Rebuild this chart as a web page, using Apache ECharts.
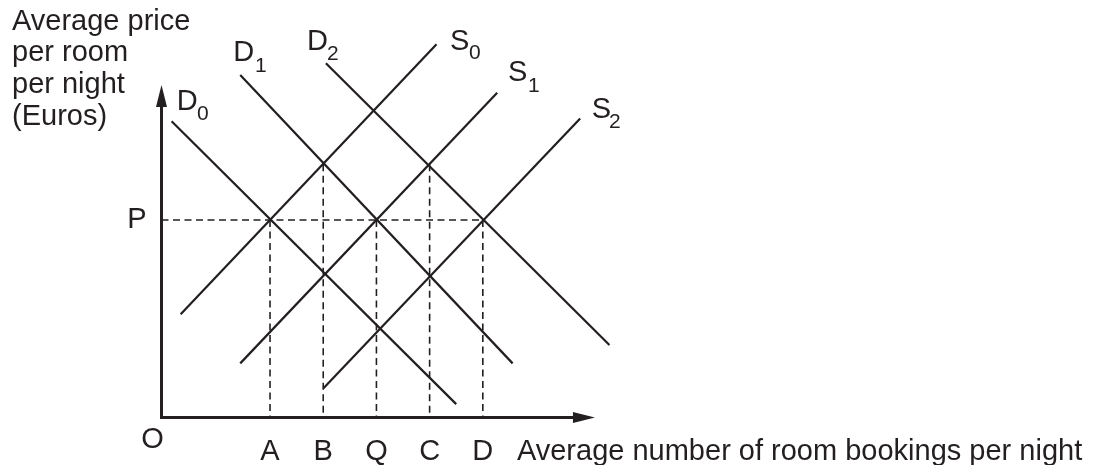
<!DOCTYPE html>
<html>
<head>
<meta charset="utf-8">
<title>Hotel room market: demand and supply shifts</title>
<script src="https://cdn.jsdelivr.net/npm/echarts@6/dist/echarts.min.js"></script>
<style>
  html, body { margin: 0; padding: 0; background: #ffffff; }
  #chart { width: 1095px; height: 465px; }
</style>
</head>
<body>
<div id="chart"></div>
<script>
// Demand and supply curves, each given by its two end points [quantity, price]
const demandD0 = [[0.15, 5.27], [5.50, 0.20]];
const demandD1 = [[1.44, 6.10], [6.56, 0.93]];
const demandD2 = [[3.05, 6.31], [8.38, 1.26]];
const supplyS0 = [[0.32, 1.81], [5.13, 6.65]];
const supplyS1 = [[1.44, 0.93], [6.27, 5.78]];
const supplyS2 = [[3.00, 0.48], [7.83, 5.32]];

// Price level P and the marked quantities on the horizontal axis
const priceP = 3.5;
const quantityTicks = [2, 3, 4, 5, 6];
const quantityLabels = ['A', 'B', 'Q', 'C', 'D'];
// Price at which each quantity guide meets its curve crossing
const guideTops = [3.5, 4.5, 3.5, 4.5, 3.5];

// Extents of the drawn axes, and a wider plotting extent so curves may run past the arrow
const xRange = [-0.04, 7.9];
const yRange = [-0.04, 5.72];
const xPlotMax = 8.6;

const INK = '#231f20';
const FONT = '"Liberation Sans", Arial, Helvetica, sans-serif';

// Pixel geometry shared by both grids
const GRID_LEFT = 161.5, GRID_TOP = 96.1, GRID_H = 321.4;
const PX_PER_Q = 53.2;

const curves = [
  { name: 'D0', data: demandD0 },
  { name: 'D1', data: demandD1 },
  { name: 'D2', data: demandD2 },
  { name: 'S0', data: supplyS0 },
  { name: 'S1', data: supplyS1 },
  { name: 'S2', data: supplyS2 }
];

const curveSeries = curves.map(c => ({
  type: 'line',
  name: c.name,
  xAxisIndex: 1,
  yAxisIndex: 1,
  data: c.data,
  symbol: 'none',
  clip: false,
  silent: true,
  lineStyle: { color: INK, width: 2.2 }
}));

const dashStyle = { color: INK, width: 1.6, type: [7, 4.5] };

const guideSeries = [{
  type: 'line',
  name: 'P',
  data: [[xRange[0], priceP], [quantityTicks[quantityTicks.length - 1], priceP]],
  symbol: 'none',
  silent: true,
  lineStyle: dashStyle
}].concat(quantityTicks.map((q, i) => ({
  type: 'line',
  name: quantityLabels[i],
  data: [[q, guideTops[i]], [q, yRange[0]]],
  symbol: 'none',
  silent: true,
  lineStyle: dashStyle
})));

// Curve names drawn as letter plus subscript: [letter, subscript, left, letter centre y, sub left, sub centre y]
const curveTags = [
  ['D', '0', 176.7, 101.7, 197.0, 114.4],
  ['D', '1', 233.3, 53.3, 255.0, 66.0],
  ['D', '2', 307.0, 41.7, 327.0, 54.4],
  ['S', '0', 450.0, 41.7, 469.0, 53.4],
  ['S', '1', 508.0, 73.3, 528.0, 86.0],
  ['S', '2', 591.7, 110.0, 609.0, 122.7]
];

const tagGraphics = [];
curveTags.forEach(t => {
  tagGraphics.push({
    type: 'text', x: t[2], y: t[3], silent: true,
    style: { text: t[0], fill: INK, fontSize: 29, fontFamily: FONT, align: 'left', verticalAlign: 'middle' }
  });
  tagGraphics.push({
    type: 'text', x: t[4], y: t[5], silent: true,
    style: { text: t[1], fill: INK, fontSize: 21, fontFamily: FONT, align: 'left', verticalAlign: 'middle' }
  });
});

const hiddenAxis = {
  show: false,
  axisLine: { show: false, onZero: false },
  axisTick: { show: false },
  axisLabel: { show: false },
  splitLine: { show: false }
};

const chart = echarts.init(document.getElementById('chart'), null, { renderer: 'canvas' });

chart.setOption({
  animation: false,
  backgroundColor: '#ffffff',
  grid: [
    {
      left: GRID_LEFT, top: GRID_TOP,
      width: (xRange[1] - xRange[0]) * PX_PER_Q, height: GRID_H,
      containLabel: false, outerBoundsMode: 'none'
    },
    {
      left: GRID_LEFT, top: GRID_TOP,
      width: (xPlotMax - xRange[0]) * PX_PER_Q, height: GRID_H,
      containLabel: false, outerBoundsMode: 'none'
    }
  ],
  xAxis: [
    {
      type: 'value',
      gridIndex: 0,
      min: xRange[0], max: xRange[1],
      name: 'Average number of room bookings per night',
      nameLocation: 'end',
      nameGap: -67,
      nameTextStyle: {
        color: INK, fontSize: 29, fontFamily: FONT,
        align: 'left', verticalAlign: 'top', padding: [20, 0, 0, 0]
      },
      axisLine: {
        show: true, onZero: false,
        symbol: ['none', 'triangle'], symbolSize: [11, 22],
        lineStyle: { color: INK, width: 3, cap: 'square' }
      },
      axisTick: { show: false },
      splitLine: { show: false },
      axisLabel: {
        show: true,
        customValues: quantityTicks,
        formatter: v => {
          const i = quantityTicks.findIndex(q => Math.abs(q - v) < 1e-6);
          return i >= 0 ? quantityLabels[i] : '';
        },
        margin: 20,
        color: INK, fontSize: 29, fontFamily: FONT
      }
    },
    Object.assign({ type: 'value', gridIndex: 1, min: xRange[0], max: xPlotMax }, hiddenAxis)
  ],
  yAxis: [
    {
      type: 'value',
      gridIndex: 0,
      min: yRange[0], max: yRange[1],
      axisLine: {
        show: true, onZero: false,
        symbol: ['none', 'triangle'], symbolSize: [11, 22],
        lineStyle: { color: INK, width: 3, cap: 'square' }
      },
      axisTick: { show: false },
      splitLine: { show: false },
      axisLabel: {
        show: true,
        customValues: [priceP],
        formatter: () => 'P',
        margin: 15,
        color: INK, fontSize: 29, fontFamily: FONT
      }
    },
    Object.assign({ type: 'value', gridIndex: 1, min: yRange[0], max: yRange[1] }, hiddenAxis)
  ],
  graphic: [
    {
      type: 'text', x: 12, y: 5.8, silent: true,
      style: {
        text: 'Average price\nper room\nper night\n(Euros)',
        fill: INK, fontSize: 29, fontFamily: FONT, lineHeight: 31.7,
        align: 'left', verticalAlign: 'top'
      }
    },
    {
      type: 'text', x: 152.5, y: 440, silent: true,
      style: { text: 'O', fill: INK, fontSize: 29, fontFamily: FONT, align: 'center', verticalAlign: 'middle' }
    }
  ].concat(tagGraphics),
  series: guideSeries.concat(curveSeries)
});
</script>
</body>
</html>
